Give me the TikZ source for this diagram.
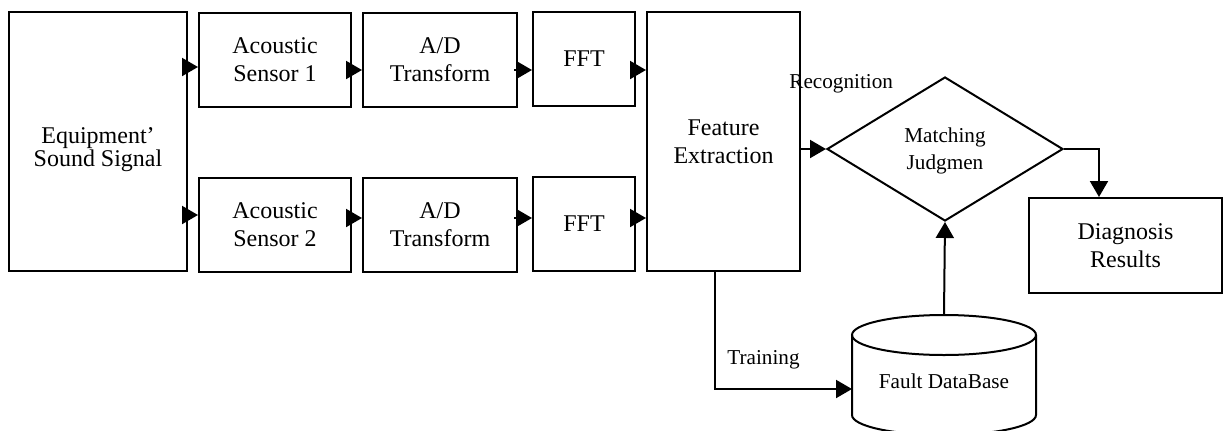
\documentclass[tikz,border=0pt]{standalone}
\usepackage{fontspec}
\setmainfont{Liberation Serif}
\usetikzlibrary{shapes.geometric,arrows.meta,calc}
\begin{document}
\begin{tikzpicture}[x=0.5pt,y=-0.5pt,
  box/.style={draw,line width=1pt,rectangle,inner sep=0pt,align=center,font=\fontsize{12}{14}\selectfont},
  lbl/.style={inner sep=0pt,font=\fontsize{10.6}{13.5}\selectfont},
  arr/.style={line width=1pt,-{Triangle[length=8pt,width=9pt]}},
  ln/.style={line width=1pt}]
\useasboundingbox (0,0) rectangle (1223,430);
% boxes
\node[box,minimum width=89pt,minimum height=129.5pt,
  label={[lbl,font=\fontsize{12}{14}\selectfont,align=center,yshift=-4pt]center:{Equipment’\\[-2.5pt]Sound Signal}}] (eq) at (98,141.5) {};
\node[box,minimum width=76pt,minimum height=47pt] (s1) at (275,60) {Acoustic\\Sensor 1};
\node[box,minimum width=76pt,minimum height=47pt] (s2) at (275,225) {Acoustic\\Sensor 2};
\node[box,minimum width=77pt,minimum height=47pt] (ad1) at (440,60) {A/D\\Transform};
\node[box,minimum width=77pt,minimum height=47pt] (ad2) at (440,225) {A/D\\Transform};
\node[box,minimum width=51pt,minimum height=47pt] (f1) at (584,59) {FFT};
\node[box,minimum width=51pt,minimum height=47pt] (f2) at (584,224) {FFT};
\node[box,minimum width=76.5pt,minimum height=129.5pt] (fe) at (723.5,141.5) {Feature\\Extraction};
\node[box,shape=diamond,minimum width=118pt,minimum height=72pt,shape aspect=1.64,
  font=\fontsize{10.6}{13.5}\selectfont,text depth=-3pt] (dec) at (945,149) {Matching\\Judgmen};
\node[box,minimum width=96.5pt,minimum height=47.5pt] (diag) at (1125.5,245.5) {Diagnosis\\Results};
% cylinder
\draw[ln,fill=white] (852,335) -- (852,415) arc[start angle=180,end angle=360,x radius=46pt,y radius=10pt] -- (1036,335);
\draw[ln] (944,335) ellipse[x radius=46pt,y radius=10pt];
\node[lbl] (db) at (944,381) {Fault DataBase};
\coordinate (dbtop) at (944,315);
\coordinate (dbleft) at (852,389);
% rows
\coordinate (ya) at (0,67);
\coordinate (yb) at (0,215);
\coordinate (yc) at (0,70);
\coordinate (yd) at (0,218);
% arrows
\draw[arr] ([xshift=-2pt]eq.east |- ya) -- (s1.west |- ya);
\draw[arr] ([xshift=-2pt]eq.east |- yb) -- (s2.west |- yb);
\draw[arr] ([xshift=-2pt]s1.east |- yc) -- (ad1.west |- yc);
\draw[arr] ([xshift=-2pt]s2.east |- yd) -- (ad2.west |- yd);
\draw[arr] ([xshift=-2pt]ad1.east |- yc) -- (f1.west |- yc);
\draw[arr] ([xshift=-2pt]ad2.east |- yd) -- (f2.west |- yd);
\draw[arr] ([xshift=-2.5pt]f1.east |- yc) -- (fe.west |- yc);
\draw[arr] ([xshift=-2.5pt]f2.east |- yd) -- (fe.west |- yd);
\draw[arr] (fe.east |- dec.west) -- (dec.west);
\draw[arr] (dec.east) -| ([xshift=-13.25pt]diag.north);
\draw[arr] (dbtop) -- (dec.south);
\draw[arr] ([xshift=-4.25pt]fe.south) |- (dbleft);
% labels
\node[lbl,anchor=base west] (rec) at (789,88) {Recognition};
\node[lbl,anchor=base west] (tr) at (727,364) {Training};
\end{tikzpicture}
\end{document}
